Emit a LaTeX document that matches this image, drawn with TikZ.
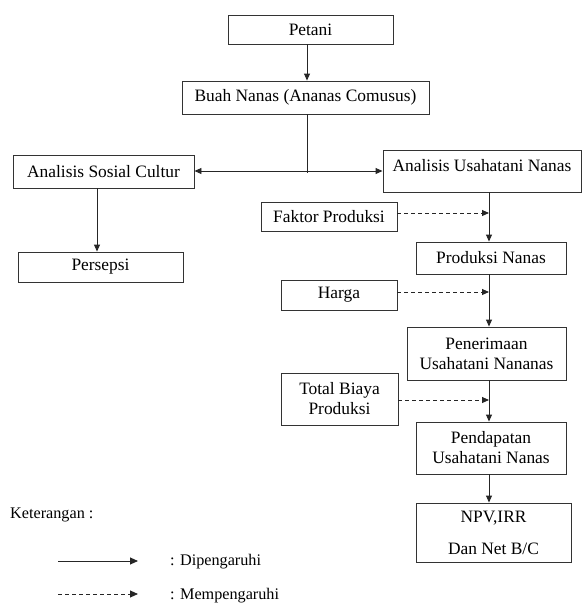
\documentclass[tikz,border=0pt]{standalone}
\usepackage{fontspec}
\setmainfont{Liberation Serif}
\newfontfamily\tnr{Liberation Serif}
\usetikzlibrary{arrows.meta}
\begin{document}
\begin{tikzpicture}[x=1pt,y=-1pt,
  box/.style={draw=black!80, line width=0.9pt, inner sep=0pt, align=center,
    font=\tnr\fontsize{17.4}{20}\selectfont},
  conn/.style={draw=black!85, line width=0.9pt},
  arr/.style={conn, -{Triangle[length=7pt,width=6pt]}},
  darr/.style={arr, dash pattern=on 4pt off 3pt},
  legtext/.style={anchor=west, inner sep=0pt, font=\tnr\fontsize{16.2}{19}\selectfont}]
\useasboundingbox (0,0) rectangle (583,614);

% boxes
\node[box, minimum width=165pt, minimum height=29pt] (pet) at (310.5,29.5) {Petani};
\node[box, minimum width=247pt, minimum height=33pt] (buah) at (305.5,97.5) {Buah Nanas (Ananas Comusus)};
\node[box, minimum width=181pt, minimum height=33pt] (sos) at (103.5,171.5) {Analisis Sosial Cultur};
\node[box, minimum width=198pt, minimum height=42pt, text depth=12pt] (usa) at (482,171) {Analisis Usahatani Nanas};
\node[box, minimum width=165pt, minimum height=30pt] (per) at (100.5,267) {Persepsi};
\node[box, minimum width=136pt, minimum height=29pt] (fak) at (329,216.5) {Faktor Produksi};
\node[box, minimum width=150pt, minimum height=32pt] (pro) at (491,258) {Produksi Nanas};
\node[box, minimum width=116pt, minimum height=30pt] (har) at (339,295) {Harga};
\node[box, minimum width=159pt, minimum height=53pt] (pen) at (486.5,353.5) {Penerimaan\\Usahatani Nananas};
\node[box, minimum width=117pt, minimum height=52pt] (tot) at (339.5,399) {Total Biaya\\Produksi};
\node[box, minimum width=150pt, minimum height=52pt] (pdp) at (491,448) {Pendapatan\\Usahatani Nanas};
\node[box, minimum width=155pt, minimum height=59pt] (npv) at (493.5,532.5) {NPV,IRR\\[12pt]Dan Net B/C};

% coordinates
\coordinate (j) at (307,171);
\coordinate (j2) at (307,173);
\coordinate (m1) at (489,213);
\coordinate (m2) at (489,292);
\coordinate (m3) at (489,400);

% solid connectors
\draw[arr] (pet.south -| j) -- (buah.north -| j);
\draw[conn] (buah.south -| j) -- (j2);
\draw[arr] (j) -- (sos.east |- j);
\draw[arr] (j) -- (usa.west |- j);
\draw[arr] (sos.south -| 97,0) -- (per.north -| 97,0);
\draw[arr] (usa.south -| m1) -- (pro.north -| m1);
\draw[arr] (pro.south -| m1) -- (pen.north -| m1);
\draw[arr] (pen.south -| m1) -- (pdp.north -| m1);
\draw[arr] (pdp.south -| m1) -- (npv.north -| m1);

% dashed connectors
\draw[darr] (fak.east |- m1) -- (m1);
\draw[darr] (har.east |- m2) -- (m2);
\draw[darr] (tot.east |- m3) -- (m3);

% legend
\node[legtext] (ket) at (10,515) {Keterangan :};
\coordinate (la1) at (58,561);
\coordinate (la2) at (138,561);
\coordinate (lb1) at (58,594);
\coordinate (lb2) at (138,594);
\draw[arr, -{Triangle[length=8pt,width=7pt]}] (la1) -- (la2);
\draw[darr, -{Triangle[length=8pt,width=7pt]}] (lb1) -- (lb2);
\node[legtext] (dip) at (170,562) {: Dipengaruhi};
\node[legtext] (mem) at (170,596) {: Mempengaruhi};
\end{tikzpicture}
\end{document}
